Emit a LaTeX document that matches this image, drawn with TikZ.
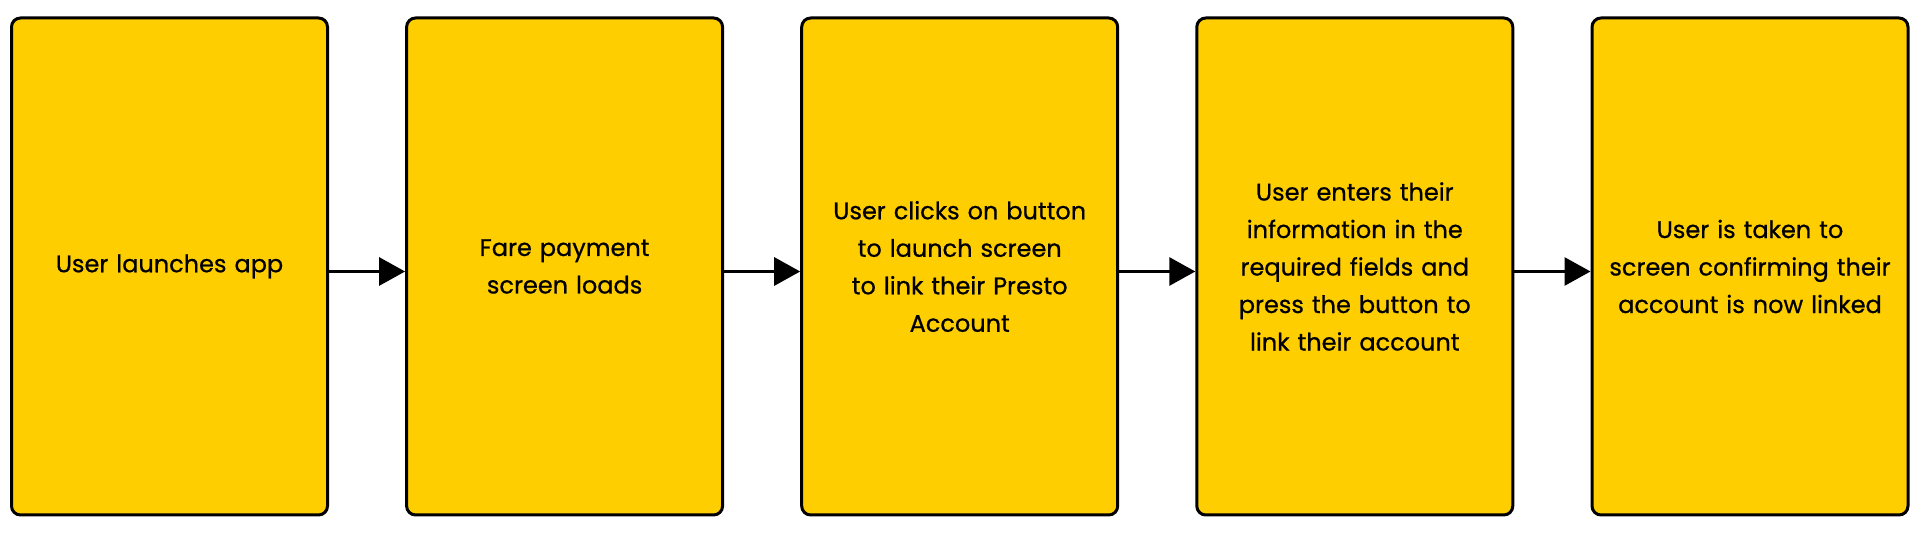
\documentclass[tikz,border=0pt]{standalone}
\usepackage{fontspec}
\setmainfont{Poppins}
\newfontfamily\stepfont{Poppins}[FakeBold=0.7]
\usetikzlibrary{arrows.meta}
\definecolor{boxyellow}{RGB}{255,206,0}
\tikzset{
  stepbox/.style={draw=black, fill=boxyellow, line width=3pt, rounded corners=9pt,
    minimum width=316pt, minimum height=497pt, inner sep=0pt,
    text width=300pt, align=center, font=\stepfont\fontsize{24}{37.5}\selectfont},
  flow/.style={line width=3pt, -{Triangle[length=26pt,width=28pt]}}
}
\begin{document}
\begin{tikzpicture}[x=1pt,y=1pt]
\useasboundingbox (0,0) rectangle (1920,537);
\node[stepbox] (s1) at (169.5,270.5) {User launches app};
\node[stepbox] (s2) at (564.6,270.5) {Fare payment\\screen loads};
\node[stepbox] (s3) at (959.7,270.5) {User clicks on button\\to launch screen\\to link their Presto\\Account};
\node[stepbox] (s4) at (1354.8,270.5) {User enters their\\information in the\\required fields and\\press the button to\\link their account};
\node[stepbox] (s5) at (1750,270.5) {User is taken to\\screen confirming their\\account is now linked};
\foreach \a/\b in {s1/s2,s2/s3,s3/s4,s4/s5}
  \draw[flow] ([yshift=-5pt]\a.east) -- ([yshift=-5pt]\b.west);
\end{tikzpicture}
\end{document}
